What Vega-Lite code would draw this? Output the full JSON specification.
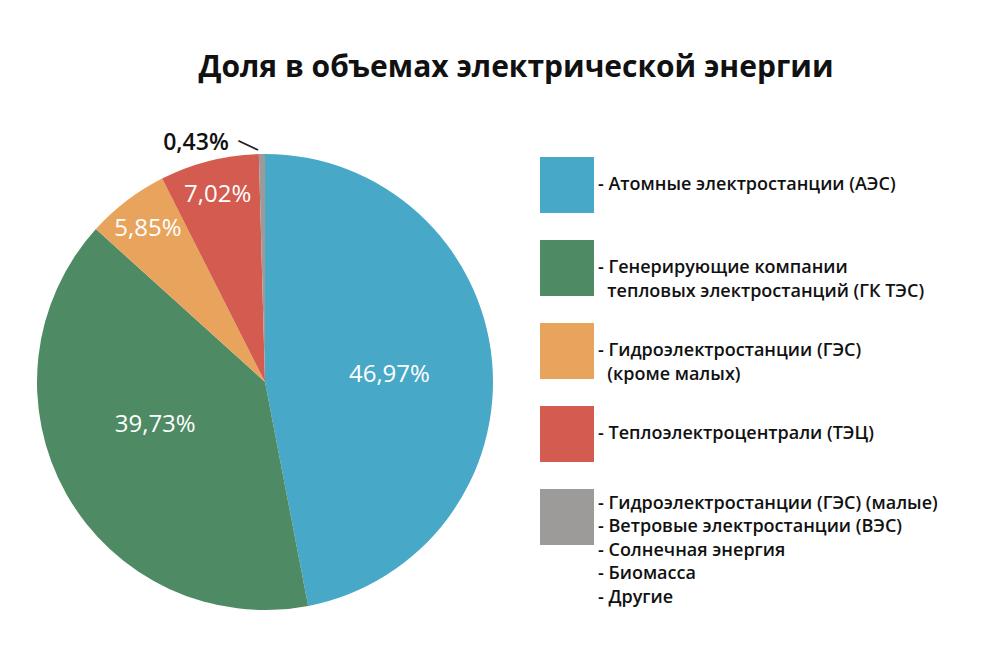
{
  "$schema": "https://vega.github.io/schema/vega-lite/v6.json",
  "background": "white",
  "bounds": "flush",
  "padding": {"top": 53, "left": 0, "right": 0, "bottom": 0},
  "spacing": 10,
  "title": {
    "text": "Доля в объемах электрической энергии",
    "font": "Open Sans",
    "fontSize": 30,
    "fontWeight": "bold",
    "color": "#111111",
    "anchor": "middle",
    "dx": 16,
    "offset": 28
  },
  "data": {
    "values": [
      {"key": "АЭС", "order": 1, "value": 46.97, "label": "46,97%", "legend": "- Атомные электростанции (АЭС)"},
      {"key": "ГК ТЭС", "order": 2, "value": 39.73, "label": "39,73%", "legend": "- Генерирующие компании\n\u200b\u00a0\u00a0тепловых электростанций (ГК ТЭС)"},
      {"key": "ГЭС", "order": 3, "value": 5.85, "label": "5,85%", "legend": "- Гидроэлектростанции (ГЭС)\n\u200b\u00a0\u00a0(кроме малых)"},
      {"key": "ТЭЦ", "order": 4, "value": 7.02, "label": "7,02%", "legend": "- Теплоэлектроцентрали (ТЭЦ)"},
      {"key": "Прочие", "order": 5, "value": 0.43, "label": "0,43%", "legend": "- Гидроэлектростанции (ГЭС) (малые)\n- Ветровые электростанции (ВЭС)\n- Солнечная энергия\n- Биомасса\n- Другие"}
    ]
  },
  "hconcat": [
    {
      "width": 530,
      "height": 542,
      "view": {"stroke": null},
      "encoding": {
        "theta": {"field": "value", "type": "quantitative", "stack": true},
        "order": {"field": "order", "type": "quantitative"}
      },
      "layer": [
        {
          "mark": {"type": "arc", "outerRadius": 228},
          "encoding": {
            "color": {
              "field": "key",
              "type": "nominal",
              "scale": {
                "domain": ["АЭС", "ГК ТЭС", "ГЭС", "ТЭЦ", "Прочие"],
                "range": ["#48a8c7", "#4e8a63", "#e8a45c", "#d35b4f", "#9d9b99"]
              },
              "legend": null
            }
          }
        },
        {
          "mark": {"type": "text", "radius": 125, "font": "Open Sans", "fontSize": 24, "color": "white", "dy": 5},
          "encoding": {"text": {"condition": {"test": "datum.order == 1", "field": "label"}, "value": ""}}
        },
        {
          "mark": {"type": "text", "radius": 118, "font": "Open Sans", "fontSize": 24, "color": "white", "dx": -7, "dy": -15},
          "encoding": {"text": {"condition": {"test": "datum.order == 2", "field": "label"}, "value": ""}}
        },
        {
          "mark": {"type": "text", "radius": 193, "font": "Open Sans", "fontSize": 24, "color": "white"},
          "encoding": {"text": {"condition": {"test": "datum.order == 3 || datum.order == 4", "field": "label"}, "value": ""}}
        },
        {
          "mark": {"type": "text", "radius": 240, "align": "right", "font": "Open Sans", "fontSize": 23, "fontWeight": 600, "color": "#111111", "dx": -33, "dy": 1},
          "encoding": {"text": {"condition": {"test": "datum.order == 5", "field": "label"}, "value": ""}}
        },
        {
          "mark": {"type": "text", "radius": 233, "font": "DejaVu Sans", "fontSize": 24, "color": "#222222", "angle": 25, "dx": -14, "dy": 2},
          "encoding": {"text": {"condition": {"test": "datum.order == 5", "value": "—"}, "value": ""}}
        }
      ]
    },
    {
      "width": 460,
      "height": 542,
      "view": {"stroke": null},
      "encoding": {
        "y": {
          "field": "key",
          "type": "nominal",
          "sort": {"field": "order"},
          "scale": {"range": [46, 434], "paddingInner": 0.325, "paddingOuter": 0},
          "axis": null
        }
      },
      "layer": [
        {
          "mark": {"type": "rect"},
          "encoding": {
            "x": {"value": 0},
            "x2": {"value": 54},
            "color": {
              "field": "key",
              "type": "nominal",
              "scale": {
                "domain": ["АЭС", "ГК ТЭС", "ГЭС", "ТЭЦ", "Прочие"],
                "range": ["#48a8c7", "#4e8a63", "#e8a45c", "#d35b4f", "#9d9b99"]
              },
              "legend": null
            }
          }
        },
        {
          "transform": [{"filter": "datum.order < 5"}],
          "mark": {"type": "text", "align": "left", "baseline": "middle", "font": "Open Sans", "fontSize": 18, "fontWeight": 600, "color": "#111111", "lineBreak": "\n", "lineHeight": 24},
          "encoding": {
            "x": {"value": 58},
            "text": {"field": "legend"}
          }
        },
        {
          "transform": [{"filter": "datum.order == 5"}],
          "mark": {"type": "text", "align": "left", "baseline": "alphabetic", "font": "Open Sans", "fontSize": 18, "fontWeight": 600, "color": "#111111", "lineBreak": "\n", "lineHeight": 23.5, "dy": 20},
          "encoding": {
            "x": {"value": 58},
            "y": {"field": "key", "type": "nominal", "bandPosition": 0},
            "text": {"field": "legend"}
          }
        }
      ]
    }
  ],
  "config": {"view": {"stroke": null}}
}
